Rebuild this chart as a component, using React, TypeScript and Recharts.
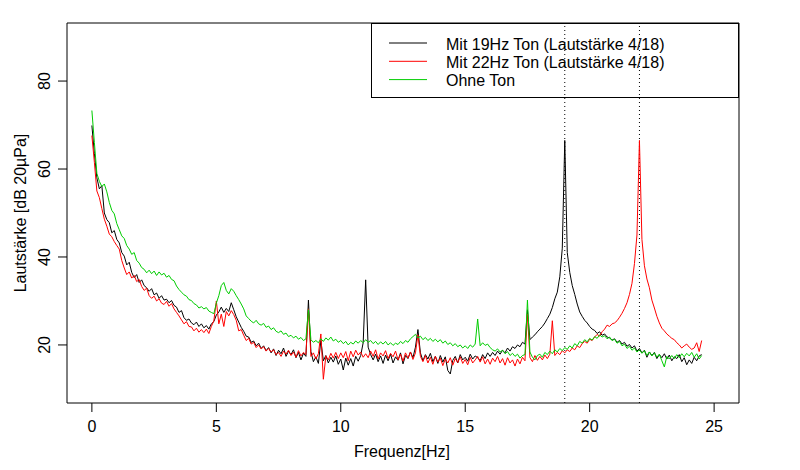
import React from "react"
import { LineChart, Line, XAxis, YAxis, ReferenceLine, ReferenceArea } from "recharts"

// spectrum sampled every 0.1 Hz, 0 .. 24.5 Hz
const FREQ_STEP = 0.1

// Mit 19Hz Ton
const black = [
  69.9, 63.5, 58, 55.5, 56.2, 50, 48.5, 47.8, 45.5, 46,
  44, 43.2, 41, 40.2, 38.2, 38.8, 36.5, 35.3, 36, 34.2,
  34.8, 33.5, 33, 32.2, 32.8, 31.4, 31.8, 30.6, 31.2, 30.2,
  30.4, 29.6, 30.1, 29, 28.6, 27.4, 27.8, 26.2, 25.6, 25.9,
  25, 24.6, 25.2, 24.2, 24.8, 23.9, 24.4, 23.6, 24.8, 25.3,
  26.8, 27.5, 28.6, 27.4, 28.3, 27.6, 29.6, 28, 26.4, 25.2,
  24, 23.1, 22, 21.8, 20.6, 20.9, 19.8, 20.4, 19.2, 19.8,
  18.7, 19.4, 18.2, 19.1, 17.6, 18.8, 18, 19.3, 17.4, 18.6,
  17.8, 18.9, 17.1, 18.3, 16.6, 18.1, 17.4, 30.2, 18.5, 16.2,
  17.3, 15.8, 21, 16.4, 17.6, 15.9, 17.2, 16.1, 17.5, 15.6,
  16.8, 14.3, 17, 15.4, 16.9, 15.2, 17.4, 16.3, 17.6, 20.5,
  34.8, 19.5, 17.8, 16.6, 17.9, 16.2, 17.5, 15.8, 17.7, 16.4,
  17.9, 15.9, 17.3, 16.5, 18.2, 15.7, 17.6, 16.9, 18.4, 17.1,
  19.5, 23.5, 18.2, 16.4, 17.8, 16.8, 18.1, 16.2, 17.4, 15.8,
  17.6, 16.1, 17.3, 14.2, 13.4, 16.5, 17.4, 15.9, 17.8, 16.6,
  17.2, 16.3, 17.9, 16.8, 17.5, 17.1, 16.4, 17.8, 16.9, 18.2,
  17.4, 18.3, 17.6, 18.6, 17.9, 18.8, 18.2, 19.3, 18.6, 19.6,
  19.2, 20, 19.6, 20.6, 20.2, 28, 21.2, 21.8, 22.3, 23,
  23.6, 24.2, 25, 26, 27, 28.5, 30.5, 32, 35.5, 42,
  66.5, 41, 36.5, 33.5, 31.5, 29.3, 27.5, 26.5, 25.6, 25,
  24.2, 23.6, 23.3, 22.6, 23, 22.2, 22.5, 21.8, 21.6, 21.1,
  21.4, 20.6, 21, 20.2, 20.6, 19.7, 20.1, 19.3, 19.8, 18.6,
  19.2, 18.2, 18.8, 17.2, 18.4, 17.6, 18.3, 16.9, 17.8, 17.1,
  18, 16.8, 17.7, 16.4, 17.3, 16.9, 17.8, 16.2, 17.1, 15.5,
  16.6, 15.8, 17.2, 16.4, 17.5, 17.8,
]

// Mit 22Hz Ton
const red = [
  67.6, 61.5, 55, 53.5, 51, 48.6, 47, 45.2, 44.6, 43.5,
  42.6, 41.8, 39.2, 37.5, 36, 36.6, 35.2, 35.8, 34.4, 34.9,
  33.3, 32.4, 32.9, 31.2, 30.6, 31.1, 30, 30.5, 29.5, 29.2,
  29.9, 28.8, 29.4, 28.2, 27.4, 26.6, 25.7, 24.8, 25.3, 24.2,
  24.1, 23.2, 23.8, 22.9, 23.5, 22.8, 23.6, 22.6, 24.2, 25.5,
  30, 24.8, 27, 24.2, 27.6, 26.6, 27.8, 26.9, 25.6, 23.2,
  23.5, 22.2, 21, 21.5, 20.2, 20.6, 19.4, 20, 19.1, 19.6,
  18.6, 19.2, 18.4, 18.9, 17.8, 18.3, 17.4, 18.6, 17.9, 18.8,
  17.6, 18.4, 17.2, 18.7, 17.5, 18.3, 17.8, 28.2, 17.4, 18.2,
  16.8, 18, 22.5, 12.2, 17.5, 16.6, 18.1, 17, 18.3, 16.9,
  18.2, 17.1, 18.5, 16.4, 18.6, 17.3, 18.8, 17.7, 18.4, 17.2,
  18, 17.1, 18.6, 17.4, 18.9, 16.8, 18.2, 17.5, 18.7, 16.9,
  18.1, 17.3, 18.6, 16.6, 17.9, 16.3, 18.2, 17, 18.4, 16.7,
  18.2, 22.3, 17.4, 16.2, 17.6, 15.9, 17.2, 15.6, 17.4, 16.1,
  17, 15.3, 16.8, 15.9, 17.1, 15.4, 16.9, 16, 17.3, 15.8,
  16.7, 15.5, 17.2, 15.9, 16.6, 17.4, 16.1, 17.3, 15.7, 16.8,
  15.6, 17, 16.2, 17.4, 15.9, 16.9, 15.4, 17.1, 15.9, 16.6,
  15.2, 16.8, 15.7, 17.2, 16.4, 27, 17.1, 16.2, 17.6, 16.5,
  17.4, 16.6, 17.7, 16.9, 17.9, 25.5, 17.6, 18.3, 17.8, 18.7,
  18.2, 18.9, 18.5, 19.3, 18.9, 19.8, 19.4, 20.3, 20.8, 20.4,
  21.3, 21, 21.8, 22.4, 22, 23, 23.6, 24.5, 24.2, 24.8,
  25, 25.5, 26.3, 27.2, 28.3, 29.6, 31.5, 34, 38.5, 45,
  66.5, 44, 38, 35, 33, 30.2, 28.4, 26.5, 25, 23.8,
  23.2, 22.5, 22, 21.5, 21.2, 20.5, 20, 19.3, 19.8, 20.2,
  19.5, 19, 19.3, 20.5, 18.5, 21,
]

// Ohne Ton
const green = [
  73.3, 66, 59, 57.2, 56, 56.6, 54.8, 52.4, 50.6, 49.8,
  47.6, 46.2, 44.8, 44.2, 42.6, 41.8, 40.6, 41, 39.2, 38.6,
  37.6, 37.2, 36.4, 37, 36.2, 36.8, 35.8, 36.6, 35.9, 36.3,
  35.4, 35.8, 34.9, 34.6, 33.4, 32.6, 32, 31.4, 31.1, 30.3,
  30.1, 29.4, 29.1, 28.4, 28.7, 28.2, 28.5, 27.7, 27.4, 27.1,
  29.5, 31.2, 33.5, 34.2, 32.4, 31.6, 32.8, 32.2, 31.2, 30.3,
  29.3, 28.2, 26.6, 26, 25.4, 25, 25.6, 24.8, 24.5, 24.9,
  24, 24.3, 23.5, 23.9, 23.1, 22.8, 23.2, 22.4, 22.7, 21.9,
  22.2, 21.6, 22, 21.3, 21.7, 21, 21.4, 28, 21.2, 20.6,
  21, 20.5, 21.4, 20.8, 21.6, 21.1, 21.8, 20.9, 21.3, 20.6,
  21, 20.3, 20.8, 20, 20.6, 20.2, 20.9, 20.4, 21, 20.5,
  21.2, 20.6, 21, 20.3, 20.8, 20.1, 20.7, 20.2, 20.8, 20,
  20.5, 19.9, 20.4, 20.1, 20.8, 20.3, 21, 20.6, 21.4, 21.9,
  22.4, 21.6, 22, 21.2, 21.7, 21, 21.5, 20.8, 21.3, 20.7,
  21.2, 20.4, 20.9, 20.1, 20.5, 19.8, 20.3, 19.6, 20, 19.3,
  19.8, 19.2, 20, 19.5, 20.2, 25.9, 19.8, 20.5, 19.9, 20.2,
  19.4, 18.9, 18.6, 19.1, 18.4, 18.8, 18, 18.5, 17.6, 18.1,
  17.4, 17.9, 17, 17.6, 17.8, 30.2, 18.4, 17.2, 16.6, 17.6,
  17.9, 17.2, 18.3, 17.8, 18.6, 18, 18.9, 18.4, 19.2, 18.7,
  19.4, 19, 19.8, 19.3, 20.3, 19.8, 20.8, 20.4, 21.2, 20.7,
  21.5, 21.1, 21.9, 21.5, 22.3, 21.8, 22.1, 21.4, 21.8, 21,
  21.3, 20.4, 20.8, 19.8, 20.2, 19.2, 19.7, 18.8, 19.3, 18.4,
  18.9, 18.1, 18.7, 17.6, 18.4, 17.5, 18.2, 17.2, 17.9, 16.4,
  15, 17.4, 16.8, 17.6, 16.9, 17.8, 17.1, 18, 17.3, 18.1,
  17.5, 18.3, 17.2, 18, 16.8, 17.6,
]

const xTicks = [0, 5, 10, 15, 20, 25]
const yTicks = [20, 40, 60, 80]
const toneLines = [19, 22]

const series = [
  { key: "black", name: "Mit 19Hz Ton (Lautstärke 4/18)", color: "#000000" },
  { key: "red", name: "Mit 22Hz Ton (Lautstärke 4/18)", color: "#FF0000" },
  { key: "green", name: "Ohne Ton", color: "#00CD00" },
]

const data = black.map((b, i) => ({
  f: Math.round(i * FREQ_STEP * 10) / 10,
  black: b,
  red: red[i],
  green: green[i],
}))

const FONT = "'Liberation Sans', Arial, Helvetica, sans-serif"

const XTick = (props: any) => {
  const { x, y, payload } = props
  return (
    <text x={x} y={y + 20} textAnchor="middle" fontSize={16} fontFamily={FONT} fill="#000">
      {payload.value}
    </text>
  )
}

const YTick = (props: any) => {
  const { x, y, payload } = props
  const tx = x - 8
  return (
    <text
      x={tx}
      y={y}
      transform={`rotate(-90, ${tx}, ${y})`}
      textAnchor="middle"
      fontSize={16}
      fontFamily={FONT}
      fill="#000"
    >
      {payload.value}
    </text>
  )
}

// legend box drawn over the chart, top right of the plot
const LegendBox = () => (
  <svg width={368} height={75} style={{ position: "absolute", left: 371, top: 23, display: "block" }}>
    <rect x={0.5} y={0.5} width={367} height={74} fill="none" stroke="#000" />
    {series.map((s, i) => (
      <g key={s.key}>
        <line x1={18} x2={56} y1={20 + i * 18.3} y2={20 + i * 18.3} stroke={s.color} strokeWidth={1} />
        <text x={75} y={26.5 + i * 18} fontSize={16} fontFamily={FONT} fill="#000">
          {s.name}
        </text>
      </g>
    ))}
  </svg>
)

export default function App() {
  return (
    <div style={{ position: "absolute", left: 0, top: 0, width: 800, height: 470, background: "#fff" }}>
      <LineChart width={800} height={470} data={data} margin={{ top: 23, right: 61, bottom: 0, left: 0 }}>
        <XAxis
          type="number"
          dataKey="f"
          domain={[-1, 26]}
          ticks={xTicks}
          allowDataOverflow
          axisLine={false}
          tickLine={{ stroke: "#000" }}
          tickSize={9}
          tickMargin={0}
          height={67}
          tick={<XTick />}
          label={{
            content: () => (
              <text x={402} y={457} textAnchor="middle" fontSize={16} fontFamily={FONT} fill="#000">
                Frequenz[Hz]
              </text>
            ),
          }}
        />
        <YAxis
          type="number"
          domain={[6.8, 93.2]}
          ticks={yTicks}
          allowDataOverflow
          axisLine={false}
          tickLine={{ stroke: "#000" }}
          tickSize={9}
          tickMargin={0}
          width={67}
          tick={<YTick />}
          label={{
            content: () => (
              <text
                x={26}
                y={213}
                transform="rotate(-90, 26, 213)"
                textAnchor="middle"
                fontSize={16}
                fontFamily={FONT}
                fill="#000"
              >
                Lautstärke [dB 20µPa]
              </text>
            ),
          }}
        />
        <ReferenceArea x1={-1} x2={26} y1={6.8} y2={93.2} fill="none" stroke="#000" strokeWidth={1} />
        {toneLines.map((t) => (
          <ReferenceLine key={t} x={t} stroke="#000" strokeDasharray="1 3" strokeWidth={1} />
        ))}
        {series.map((s) => (
          <Line
            key={s.key}
            type="linear"
            dataKey={s.key}
            name={s.name}
            stroke={s.color}
            strokeWidth={1}
            dot={false}
            activeDot={false}
            isAnimationActive={false}
          />
        ))}
      </LineChart>
      <LegendBox />
    </div>
  )
}
